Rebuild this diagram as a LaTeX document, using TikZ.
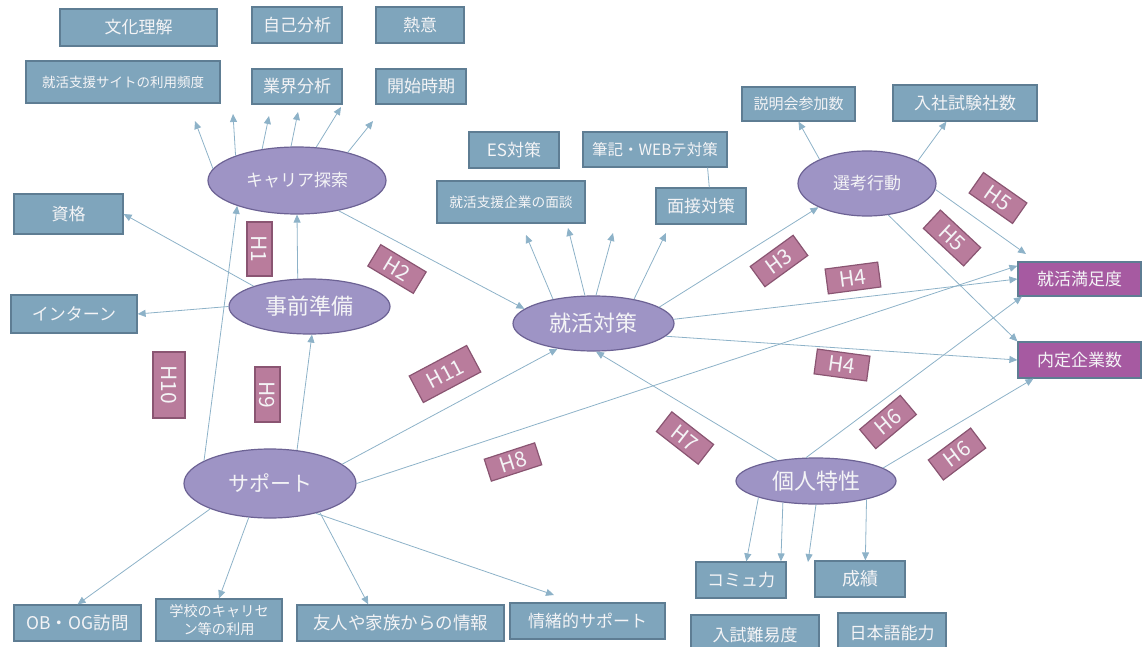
\documentclass[tikz,border=0pt]{standalone}
\usepackage{fontspec}
\setmainfont{Noto Sans CJK JP}
\usetikzlibrary{shapes.geometric,arrows.meta,calc}
\definecolor{boxfill}{HTML}{7FA5BC}
\definecolor{boxline}{HTML}{5E7D93}
\definecolor{ellfill}{HTML}{9E94C5}
\definecolor{ellline}{HTML}{6C6294}
\definecolor{hfill}{HTML}{B97C9C}
\definecolor{hline}{HTML}{8A5572}
\definecolor{outfill}{HTML}{A65AA1}
\definecolor{lnc}{HTML}{8DB2C8}
\definecolor{txt}{HTML}{F4F4F6}
\newcommand\fsz[1]{\fontsize{#1pt}{#1pt}\selectfont}
\tikzset{
  box/.style={draw=boxline, fill=boxfill, line width=1.2pt, inner sep=0pt, text=txt, font=\fsz{17}},
  outbox/.style={box, fill=outfill},
  ell/.style={ellipse, draw=ellline, fill=ellfill, line width=1.2pt, inner sep=0pt, text=txt},
  hlab/.style={draw=hline, fill=hfill, line width=1.2pt, inner sep=0pt, text=txt, font=\fsz{21}, minimum width=53pt, minimum height=25pt},
  conn/.style={draw=lnc, line width=0.8pt},
  arr/.style={conn, -{Triangle[length=8pt,width=7pt]}}
}
\begin{document}
\begin{tikzpicture}[x=1pt,y=-1pt]
\useasboundingbox (0,0) rectangle (1142,647);

% ---- boxes ----
\node[box, minimum width=157pt, minimum height=37pt] (bunka) at (138.5,27.5) {文化理解};
\node[box, minimum width=90pt, minimum height=36pt] (jiko) at (297,25) {自己分析};
\node[box, minimum width=88pt, minimum height=36pt] (netsui) at (420,25) {熱意};
\node[box, minimum width=194pt, minimum height=42pt, font=\fsz{13.5}] (site) at (123,82) {就活支援サイトの利用頻度};
\node[box, minimum width=90pt, minimum height=35pt] (gyokai) at (297,86.5) {業界分析};
\node[box, minimum width=90pt, minimum height=35pt] (kaishi) at (421,86.5) {開始時期};
\node[box, minimum width=109pt, minimum height=40pt] (shikaku) at (68.5,214) {資格};
\node[box, minimum width=126pt, minimum height=38pt] (intern) at (74,314) {インターン};
\node[box, minimum width=90pt, minimum height=36pt] (es) at (514,150) {ES対策};
\node[box, minimum width=144pt, minimum height=35pt, font=\fsz{15.5}] (hikki) at (655,149.5) {筆記・WEBテ対策};
\node[box, minimum width=148pt, minimum height=42pt, font=\fsz{13.7}] (mendan) at (511,202) {就活支援企業の面談};
\node[box, minimum width=90pt, minimum height=36pt] (mensetsu) at (701,206) {面接対策};
\node[box, minimum width=113pt, minimum height=34pt, font=\fsz{15}] (setsumei) at (798.5,104) {説明会参加数};
\node[box, minimum width=144pt, minimum height=36pt] (nyusha) at (965,103) {入社試験社数};
\node[outbox, minimum width=123pt, minimum height=34pt] (manzoku) at (1079.5,279) {就活満足度};
\node[outbox, minimum width=123pt, minimum height=36pt] (naitei) at (1079.5,360) {内定企業数};
\node[box, minimum width=90pt, minimum height=36pt] (komyu) at (741,580) {コミュ力};
\node[box, minimum width=90pt, minimum height=36pt, font=\fsz{18}] (seiseki) at (860,579) {成績};
\node[box, minimum width=128pt, minimum height=40pt] (nyushi) at (755,635) {入試難易度};
\node[box, minimum width=108pt, minimum height=40pt] (nihongo) at (892,633) {日本語能力};
\node[box, minimum width=127pt, minimum height=36pt, font=\fsz{17.5}] (obog) at (77.5,623) {OB・OG訪問};
\node[box, minimum width=126pt, minimum height=42pt, align=center, font={\fontsize{14.2pt}{18pt}\selectfont}] (gakko) at (219,620) {学校のキャリセ\\ン等の利用};
\node[box, minimum width=207pt, minimum height=36pt, font=\fsz{17.5}] (yujin) at (400.5,623) {友人や家族からの情報};
\node[box, minimum width=155pt, minimum height=36pt] (jocho) at (587.5,621) {情緒的サポート};

% ---- ellipses ----
\node[ell, minimum width=178pt, minimum height=67pt, font=\fsz{17}] (kyaria) at (297,180.5) {キャリア探索};
\node[ell, minimum width=161pt, minimum height=55pt, font=\fsz{22}] (jizen) at (309.5,306.5) {事前準備};
\node[ell, minimum width=161pt, minimum height=55pt, font=\fsz{22}] (shukatsu) at (593.5,323.5) {就活対策};
\node[ell, minimum width=138pt, minimum height=65pt, font=\fsz{17}] (senko) at (867,183.5) {選考行動};
\node[ell, minimum width=172pt, minimum height=69pt, font=\fsz{21}] (support) at (270,483.5) {サポート};
\node[ell, minimum width=160pt, minimum height=46pt, font=\fsz{22}] (kojin) at (816,481) {個人特性};

% ---- free ends ----
\coordinate (k1) at (195,121);
\coordinate (k2) at (233,114);
\coordinate (k3) at (269,116);
\coordinate (k4) at (298,112);
\coordinate (k5) at (341,107);
\coordinate (k6) at (373,121);
\coordinate (s1) at (526,235);
\coordinate (s2) at (568,228);
\coordinate (s3) at (613,233);
\coordinate (s4) at (666,233);
\coordinate (m1) at (1026,254);
\coordinate (kj) at (808,562);
\coordinate (jc) at (554,595);

% ---- connectors ----
\draw[arr] (kyaria.172) -- (k1);
\draw[arr] (kyaria.158) -- (k2);
\draw[arr] (kyaria.138) -- (k3);
\draw[arr] (kyaria.100) -- (k4);
\draw[arr] (kyaria.60) -- (k5);
\draw[arr] (kyaria.29) -- (k6);

\draw[arr] (jizen.160) -- (shikaku.east);
\draw[arr] (jizen.west) -- (intern.east);
\draw[arr] (jizen.113) -- (kyaria.south);
\draw[arr] (support.161) -- (kyaria.203);
\draw[arr] (support.51) -- (jizen.275);
\draw[arr] (kyaria.324) -- (shukatsu.168);
\draw[arr] (support.15) -- (shukatsu.215);
\draw[arr] (support.east) -- (manzoku.168);

\draw[arr] (shukatsu.149) -- (s1);
\draw[arr] (shukatsu.107) -- (s2);
\draw[arr] (shukatsu.85) -- (s3);
\draw[arr] (shukatsu.31) -- (s4);
\draw[conn] (hikki.341) -- (mensetsu.66);

\draw[arr] (shukatsu.14) -- (senko.206);
\draw[arr] (shukatsu.3) -- (manzoku.west);
\draw[arr] (shukatsu.350) -- (naitei.west);

\draw[arr] (senko.153) -- (setsumei.south);
\draw[arr] (senko.24) -- (nyusha.225);
\draw[arr] (senko.355) -- (m1);
\draw[arr] (senko.304) -- (naitei.north west);

\draw[arr] (kojin.152) -- (shukatsu.275);
\draw[arr] (kojin.113) -- (manzoku.197);
\draw[arr] (kojin.11) -- (naitei.202);
\draw[arr] (kojin.196) -- (komyu.74);
\draw[arr] (kojin.213) -- (komyu.25);
\draw[arr] (kojin.south) -- (kj);
\draw[arr] (kojin.340) -- (seiseki.74);

\draw[arr] (support.203) -- (obog.north);
\draw[arr] (support.238) -- (gakko.north);
\draw[arr] (support.330) -- (yujin.150);
\draw[arr] (support.327) -- (jc);

% ---- hypothesis labels ----
\node[hlab, rotate=-90, minimum width=54pt] (h1) at (259.5,249) {H1};
\node[hlab, rotate=-31] (h2) at (397,269) {H2};
\node[hlab, rotate=36] (h3) at (779,261) {H3};
\node[hlab, rotate=7.5] (h4a) at (853,278) {H4};
\node[hlab, rotate=-7.7] (h4b) at (842,365) {H4};
\node[hlab, rotate=-35] (h5a) at (998,198) {H5};
\node[hlab, rotate=-43, minimum width=55pt] (h5b) at (952,238) {H5};
\node[hlab, rotate=40] (h6a) at (888,422) {H6};
\node[hlab, rotate=37] (h6b) at (957,454) {H6};
\node[hlab, rotate=-38] (h7) at (685,438) {H7};
\node[hlab, rotate=18, minimum height=23pt] (h8) at (513,462) {H8};
\node[hlab, rotate=-90, minimum width=55pt] (h9) at (267.5,394.5) {H9};
\node[hlab, rotate=-90, minimum width=66pt, minimum height=32pt] (h10) at (169,385) {H10};
\node[hlab, rotate=28, minimum width=65pt, minimum height=30pt] (h11) at (445,374) {H11};
\end{tikzpicture}
\end{document}
